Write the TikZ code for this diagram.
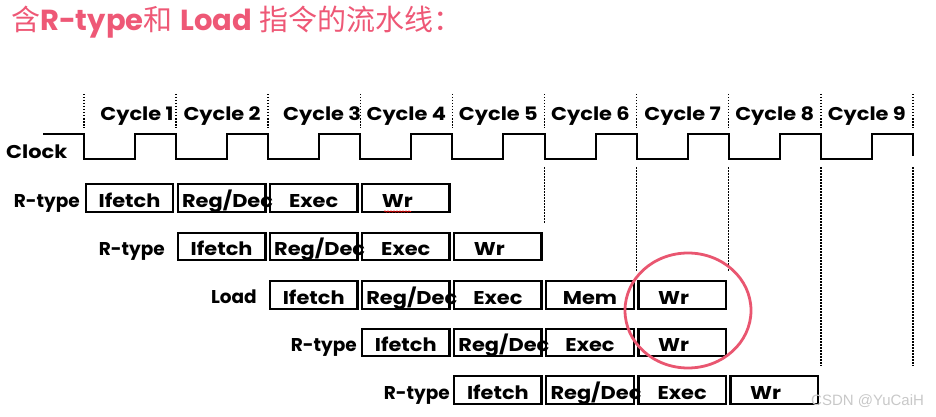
\documentclass[tikz,border=0pt]{standalone}
\usepackage{fontspec}
\setmainfont{Poppins}
\newfontfamily\widefont{Poppins}[FakeStretch=1.13]
\newfontfamily\cjkfont{Noto Sans CJK SC}
\newfontfamily\wmfont{Liberation Sans}
\usetikzlibrary{decorations.pathmorphing}
\definecolor{titlepink}{RGB}{238,88,118}
\definecolor{circlepink}{RGB}{233,86,112}
\definecolor{wmgray}{RGB}{200,200,200}
\newcommand{\wrtext}{\makebox[79pt][l]{\hspace{15.5pt}Wr}}
\begin{document}
\begin{tikzpicture}[x=1pt,y=-1pt,
  stagebox/.style={draw, line width=2.4pt, minimum width=87.5pt, minimum height=27.5pt,
    inner sep=0pt, text height=18pt, text depth=0pt,
    font=\widefont\bfseries\fontsize{18.5}{18.5}\selectfont},
  rowlabel/.style={anchor=base east, inner sep=0pt, font=\bfseries\fontsize{18.5}{18.5}\selectfont},
  cyclelabel/.style={anchor=base, inner sep=0pt, font=\widefont\bfseries\fontsize{18.5}{18.5}\selectfont},
  clockline/.style={line width=2pt},
  tick/.style={line width=1.5pt, dash pattern=on 1.5pt off 1.5pt},
  ring/.style={draw=circlepink, line width=2.8pt}]
\useasboundingbox (0,0) rectangle (936,417);

% title
\node[anchor=west, inner sep=0pt, text=titlepink, font=\fontsize{29}{29}\selectfont] (title) at (11,22)
  {{\cjkfont 含}{\bfseries R-type}{\cjkfont 和} {\bfseries Load} {\cjkfont 指令的流水线：}};

% cycle ticks (top)
\foreach \i in {0,...,9} {
  \draw[tick] ({84+92.1*\i},94) -- ({84+92.1*\i},128);
}
% cycle labels
\foreach \i/\dx in {1/7,2/0,3/8,4/0,5/0,6/0,7/0,8/0,9/0} {
  \node[cyclelabel] (cyc\i) at ({84+92.1*(\i-1)+46+\dx},121) {Cycle \i};
}

% clock
\node[anchor=base west, inner sep=0pt, font=\widefont\bfseries\fontsize{18.5}{18.5}\selectfont] (clk) at (6,158) {Clock};
\draw[clockline] (43,134)
  \foreach \i in {0,...,8} {
    -- ({84+92.1*\i},134) -- ({84+92.1*\i},159) -- ({84+92.1*\i+51},159)
    -- ({84+92.1*\i+51},134)
  } -- (912.9,134) -- (912.9,156);

% lower ticks
\draw[tick] (544.5,167) -- (544.5,223);
\draw[tick] (636.6,167) -- (636.6,272);
\draw[tick] (728.7,167) -- (728.7,272);
\draw[tick] (820.8,167) -- (820.8,366);
\draw[tick] (912.9,167) -- (912.9,366);

% row 1 : R-type, cycle 1
\node[rowlabel] (l1) at (80,207) {R-type};
\node[stagebox] (a1) at ({84+92.1*0+45.5},198) {Ifetch};
\node[stagebox] (a2) at ({84+92.1*1+45.5},198) {\makebox[79pt][l]{Reg/Dec}};
\node[stagebox] (a3) at ({84+92.1*2+45.5},198) {Exec};
\node[stagebox] (a4) at ({84+92.1*3+45.5},198) {\wrtext};
\draw[red, line width=0.6pt, decorate, decoration={snake, amplitude=0.7pt, segment length=3pt}]
  (384,211.5) -- (411,211.5);

% row 2 : R-type, cycle 2
\node[rowlabel] (l2) at (165,255) {R-type};
\node[stagebox] (b1) at ({84+92.1*1+45.5},246.5) {Ifetch};
\node[stagebox] (b2) at ({84+92.1*2+45.5},246.5) {\makebox[79pt][l]{Reg/Dec}};
\node[stagebox] (b3) at ({84+92.1*3+45.5},246.5) {Exec};
\node[stagebox] (b4) at ({84+92.1*4+45.5},246.5) {\wrtext};

% row 3 : Load, cycle 3
\node[rowlabel] (l3) at (257,303) {Load};
\node[stagebox] (c1) at ({84+92.1*2+45.5},295) {Ifetch};
\node[stagebox] (c2) at ({84+92.1*3+45.5},295) {\makebox[79pt][l]{Reg/Dec}};
\node[stagebox] (c3) at ({84+92.1*4+45.5},295) {Exec};
\node[stagebox] (c4) at ({84+92.1*5+45.5},295) {Mem};
\node[stagebox] (c5) at ({84+92.1*6+45.5},295) {\wrtext};

% row 4 : R-type, cycle 4
\node[rowlabel] (l4) at (357,351) {R-type};
\node[stagebox] (d1) at ({84+92.1*3+45.5},342.5) {Ifetch};
\node[stagebox] (d2) at ({84+92.1*4+45.5},342.5) {\makebox[79pt][l]{Reg/Dec}};
\node[stagebox] (d3) at ({84+92.1*5+45.5},342.5) {Exec};
\node[stagebox] (d4) at ({84+92.1*6+45.5},342.5) {\wrtext};

% row 5 : R-type, cycle 5
\node[rowlabel] (l5) at (450,399) {R-type};
\node[stagebox] (e1) at ({84+92.1*4+45.5},390) {Ifetch};
\node[stagebox] (e2) at ({84+92.1*5+45.5},390) {\makebox[79pt][l]{Reg/Dec}};
\node[stagebox] (e3) at ({84+92.1*6+45.5},390) {Exec};
\node[stagebox] (e4) at ({84+92.1*7+45.5},390) {\wrtext};

% highlight ring
\draw[ring] (688,310.5) ellipse [x radius=63, y radius=57.5];

% watermark
\node[anchor=west, inner sep=0pt, text=wmgray, font=\wmfont\fontsize{15}{15}\selectfont] (wm) at (811,401) {CSDN @YuCaiH};
\end{tikzpicture}
\end{document}
